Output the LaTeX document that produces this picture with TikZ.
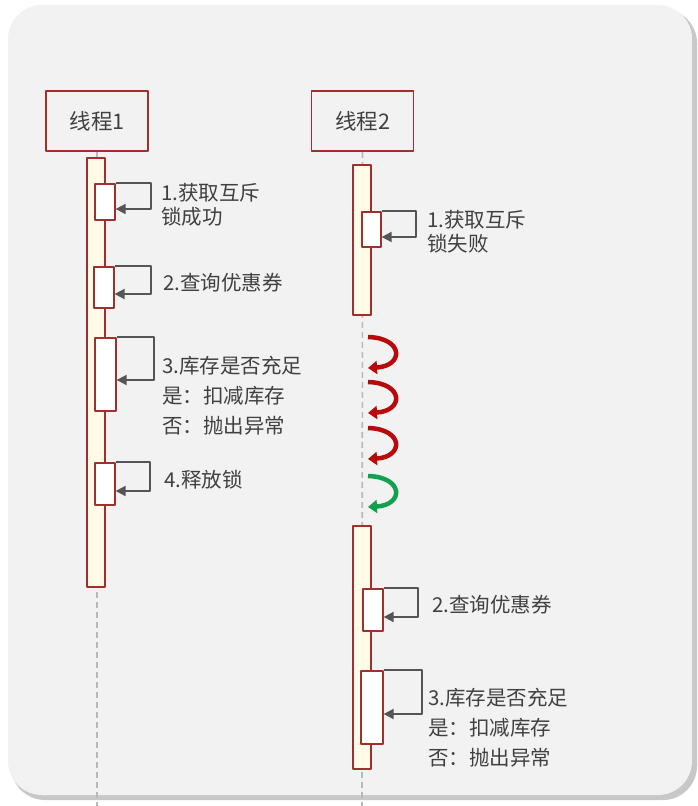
\documentclass[tikz,border=0pt]{standalone}
\usepackage{fontspec}
\newfontfamily\cjk{Noto Sans CJK SC}
\usetikzlibrary{arrows.meta,calc}
\definecolor{panelgray}{HTML}{F2F2F2}
\definecolor{shadowgray}{HTML}{C8C8C8}
\definecolor{boxred}{HTML}{A0302E}
\definecolor{barcream}{HTML}{FFFBE6}
\definecolor{textgray}{HTML}{404040}
\definecolor{arrowgray}{HTML}{555555}
\definecolor{waitred}{HTML}{B80A0A}
\definecolor{waitgreen}{HTML}{12A04E}

\begin{document}
\begin{tikzpicture}[
  x=1pt,
  y=-1pt,
  line join=round,
  thread box/.style={draw=boxred,line width=1.5pt,fill=panelgray,
    minimum width=102pt,minimum height=60pt,inner sep=0pt,
    text=textgray,font={\cjk\fontsize{21.5}{24}\selectfont}},
  lifeline/.style={draw=gray!55,line width=1.6pt,dash pattern=on 6pt off 4pt},
  act bar/.style={draw=boxred,line width=1.3pt,fill=barcream,
    minimum width=18pt,inner sep=0pt},
  call box/.style={draw=boxred,line width=1.3pt,fill=white,
    minimum width=20pt,inner sep=0pt},
  self call/.style={draw=arrowgray,line width=1.9pt,
    -{Triangle[length=10pt,width=10pt]}},
  step text/.style={anchor=west,align=left,inner sep=0pt,text=textgray,
    font={\cjk\fontsize{20.5}{24}\selectfont}},
  wide text/.style={step text,font={\cjk\fontsize{20.5}{30}\selectfont}},
  wait arrow/.style={line width=4.5pt,line cap=butt,
    -{Triangle[length=9pt,width=13pt]}}
]
  \path[use as bounding box] (0,0) rectangle (698,806);
  \fill[white] (0,0) rectangle (698,806);

  % panel with a soft drop shadow
  \fill[shadowgray,rounded corners=34pt] (11,9) rectangle (697,800);
  \fill[panelgray,rounded corners=34pt] (8,5) rectangle (692,795);

  % threads and lifelines
  \node[thread box] (t1) at (97,121) {线程1};
  \node[thread box] (t2) at (362.5,121) {线程2};
  \coordinate (t1end) at (97,806);
  \coordinate (t2end) at (362,806);
  \draw[lifeline] (t1.south) -- (t1end);
  \draw[lifeline] (t2.south) -- (t2end);

  % activation bars
  \node[act bar,minimum height=429pt] (bar1) at (96,372.5) {};
  \node[act bar,minimum height=150pt] (bar2) at (362,240) {};
  \node[act bar,minimum height=243pt] (bar3) at (362,647.5) {};

  % thread 1 calls
  \node[call box,minimum height=36pt] (c11) at (105,202) {};
  \node[call box,minimum height=41pt] (c12) at (104,287.5) {};
  \node[call box,minimum height=73pt,minimum width=21pt] (c13) at (105.5,374.5) {};
  \node[call box,minimum height=42pt] (c14) at (105,484) {};
  \coordinate (r11) at (151,209);
  \coordinate (r12) at (151,294);
  \coordinate (r13) at (154,380);
  \coordinate (r14) at (150,491);
  \draw[self call] (c11.north east) -| (r11) -- (c11.east |- r11);
  \draw[self call] (c12.north east) -| (r12) -- (c12.east |- r12);
  \draw[self call] (c13.north east) -| (r13) -- (c13.east |- r13);
  \draw[self call] (c14.north east) -| (r14) -- (c14.east |- r14);
  \node[step text] (l11) at (161,205) {1.获取互斥\\锁成功};
  \node[step text] (l12) at (163,283) {2.查询优惠券};
  \node[wide text] (l13) at (162,396) {3.库存是否充足\\是：扣减库存\\否：抛出异常};
  \node[step text] (l14) at (164,480) {4.释放锁};

  % thread 2 calls
  \node[call box,minimum height=35pt,minimum width=19pt] (c21) at (371.5,229.5) {};
  \node[call box,minimum height=42pt] (c22) at (373,610) {};
  \node[call box,minimum height=73pt,minimum width=22pt] (c23) at (372,707.5) {};
  \coordinate (r21) at (416,237);
  \coordinate (r22) at (418,617);
  \coordinate (r23) at (422,714);
  \draw[self call] (c21.north east) -| (r21) -- (c21.east |- r21);
  \draw[self call] (c22.north east) -| (r22) -- (c22.east |- r22);
  \draw[self call] (c23.north east) -| (r23) -- (c23.east |- r23);
  \node[step text] (l21) at (427,232) {1.获取互斥\\锁失败};
  \node[step text] (l22) at (432,605) {2.查询优惠券};
  \node[wide text] (l23) at (428,728) {3.库存是否充足\\是：扣减库存\\否：抛出异常};

  % retry loop of thread 2
  \foreach \cfY/\cfC in {337/waitred,382/waitred,428/waitred,476/waitgreen}{
    \draw[wait arrow,\cfC] (368,\cfY) .. controls (404,\cfY+1) and (404,\cfY+29)
      .. (368,\cfY+31);
  }
\end{tikzpicture}
\end{document}
